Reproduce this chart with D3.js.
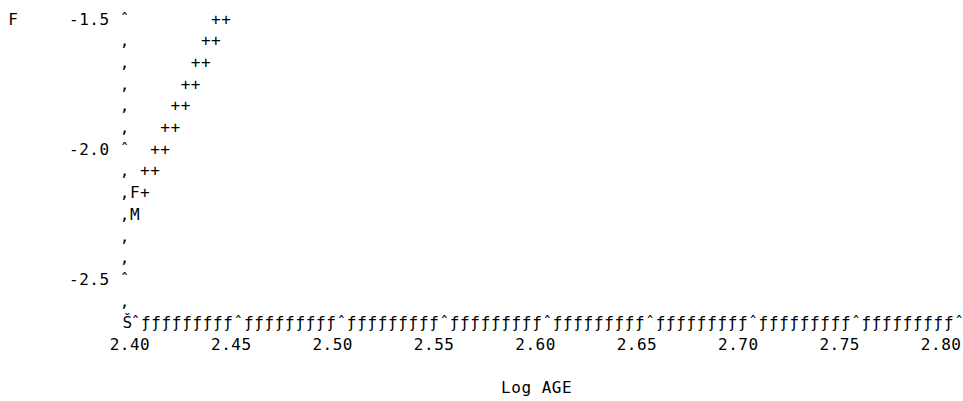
<!DOCTYPE html>
<html>
<head>
<meta charset="utf-8">
<script src="https://cdn.jsdelivr.net/npm/d3@7"></script>
<style>
  body { margin: 0; background: #fff; }
  text { font-family: "DejaVu Sans Mono", monospace; font-size: 16px; fill: #000; }
</style>
</head>
<body>
<div id="chart"></div>
<script>
// '+' symbols (two per print row)
var plusAge = [2.440, 2.445, 2.435, 2.440, 2.430, 2.435, 2.425, 2.430, 2.420, 2.425,
               2.415, 2.420, 2.410, 2.415, 2.405, 2.410, 2.405];
var plusF   = [-1.500, -1.500, -1.583, -1.583, -1.667, -1.667, -1.750, -1.750, -1.833, -1.833,
               -1.917, -1.917, -2.000, -2.000, -2.083, -2.083, -2.167];
// 'F' and 'M' symbols
var femaleAge = [2.400], femaleF = [-2.167];
var maleAge   = [2.400], maleF   = [-2.250];

var yTicks = [-1.5, -2.0, -2.5];
var yTickLabels = ["-1.5", "-2.0", "-2.5"];
var xTicks = [2.40, 2.45, 2.50, 2.55, 2.60, 2.65, 2.70, 2.75, 2.80];
var xTickLabels = ["2.40", "2.45", "2.50", "2.55", "2.60", "2.65", "2.70", "2.75", "2.80"];
var xLabel = "Log AGE", yLabel = "F";

var width = 963, height = 401;
var cw = 10.14, x0 = 8, lh = 21.7, base = 24.5;   // character grid of the listing

function colX(c) { return x0 + (c + 0.5) * cw; }
function rowY(r) { return base + r * lh; }

var x = d3.scaleLinear().domain([2.40, 2.80]).range([colX(12), colX(92)]);
var y = d3.scaleLinear().domain([-1.5, -2.5]).range([rowY(0), rowY(12)]);
// the axis line row is spread a bit wider than the other rows
var xLine = d3.scaleLinear().domain([2.40, 2.80]).range([135.5, 959]);

var svg = d3.select("#chart").append("svg")
    .attr("width", width)
    .attr("height", height);

// draw a string one character per grid cell, first char centred at cx
function put(str, cx, by) {
  svg.append("g").selectAll("text")
    .data(str.split(""))
    .join("text")
      .attr("x", function(d, i) { return cx + i * cw; })
      .attr("y", by)
      .attr("text-anchor", "middle")
      .text(function(d) { return d; });
}

// vertical axis: tick marks and bars
var rows = d3.range(0, 14).map(function(r) { return -1.5 - r / 12; });
svg.append("g").selectAll("text")
  .data(rows)
  .join("text")
    .attr("x", colX(11))
    .attr("y", function(d) { return y(d); })
    .attr("text-anchor", "middle")
    .text(function(d, i) { return (i % 6 === 0) ? "\u02C6" : "\u201A"; });

yTicks.forEach(function(v, i) {
  var s = yTickLabels[i];
  put(s, colX(10 - s.length), y(v));
});

put(yLabel, colX(0), rowY(0));

// horizontal axis line
var steps = d3.range(0, 81).map(function(k) { return 2.40 + k * 0.005; });
var lineY = rowY(14);
svg.append("text")
  .attr("x", xLine(2.395) + 2)
  .attr("y", lineY)
  .attr("text-anchor", "middle")
  .text("\u0160");
svg.append("g").selectAll("text")
  .data(steps)
  .join("text")
    .attr("x", function(d) { return xLine(d); })
    .attr("y", lineY)
    .attr("text-anchor", "middle")
    .text(function(d, k) { return (k % 10 === 0) ? "\u02C6" : "\u0192"; });

xTicks.forEach(function(v, i) {
  put(xTickLabels[i], x(v) - 2 * cw, rowY(15));
});

put(xLabel, (x(2.40) + x(2.80)) / 2 - 4 - 3 * cw, rowY(17));

// plot symbols
function symbols(xs, ys, ch) {
  svg.append("g").selectAll("text")
    .data(xs)
    .join("text")
      .attr("x", function(d) { return x(d); })
      .attr("y", function(d, i) { return y(ys[i]); })
      .attr("text-anchor", "middle")
      .text(ch);
}
symbols(plusAge, plusF, "+");
symbols(femaleAge, femaleF, "F");
symbols(maleAge, maleF, "M");
</script>
</body>
</html>
